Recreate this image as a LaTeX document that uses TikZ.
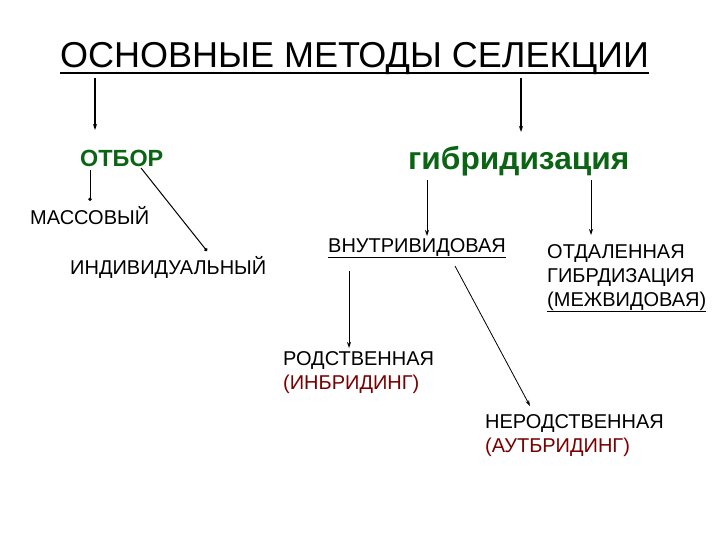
\documentclass[tikz,border=0pt]{standalone}
\usepackage{fontspec}
\setmainfont{Liberation Sans}
\usetikzlibrary{arrows.meta}
\definecolor{otborgreen}{RGB}{10,100,20}
\definecolor{bridred}{RGB}{120,0,0}
\begin{document}
\begin{tikzpicture}[x=1pt, y=-1pt,
    lbl/.style={anchor=base west, inner sep=0pt, font=\fontsize{20}{24}\selectfont, align=left},
    head/.style={anchor=base west, inner sep=0pt, text=otborgreen},
    arr/.style={-{Stealth[length=6pt,width=4pt]}, line width=0.8pt},
    big/.style={arr, line width=1.2pt},
    dot/.style={-{Circle[length=3.5pt]}, line width=1pt}
]
\useasboundingbox (0,0) rectangle (720,540);
\node[lbl, font=\fontsize{36}{40}\selectfont] (title) at (60,68) {ОСНОВНЫЕ МЕТОДЫ СЕЛЕКЦИИ};
\draw[line width=1.5pt] ([yshift=-5pt]title.base west) -- ([yshift=-5pt]title.base east);
\node[head, font=\fontsize{23.4}{26}\selectfont\bfseries] (otbor) at (80,167) {ОТБОР};
\node[head, font=\fontsize{31.7}{36}\selectfont\bfseries] (gibr) at (408,170) {гибридизация};
\node[lbl] (massov) at (30,225) {МАССОВЫЙ};
\node[lbl] (individ) at (70,274) {ИНДИВИДУАЛЬНЫЙ};
\node[lbl] (vnutri) at (328,252) {\underline{ВНУТРИВИДОВАЯ}};
\node[lbl] (otdal) at (547,306) {ОТДАЛЕННАЯ\\ГИБРДИЗАЦИЯ\\\underline{(МЕЖВИДОВАЯ)}};
\node[lbl] (rodstv) at (283,389) {РОДСТВЕННАЯ\\\textcolor{bridred}{(ИНБРИДИНГ)}};
\node[lbl] (nerodstv) at (485,452) {НЕРОДСТВЕННАЯ\\\textcolor{bridred}{(АУТБРИДИНГ)}};
% from the title
\draw[big] ([xshift=35pt,yshift=-10pt]title.base west) -- ([xshift=15pt,yshift=37pt]otbor.base west);
\draw[big] ([xshift=461pt,yshift=-10pt]title.base west) -- ([xshift=113pt,yshift=38pt]gibr.base west);
% otbor
\draw[dot] ([xshift=10pt,yshift=-3pt]otbor.base west) -- ([xshift=60pt,yshift=24pt]massov.base west);
\draw[dot] ([xshift=61pt,yshift=-1pt]otbor.base west) -- ([xshift=137pt,yshift=23pt]individ.base west);
% gibridizaciya
\draw[arr] ([xshift=19pt,yshift=-10pt]gibr.base west) -- ([xshift=99pt,yshift=16pt]vnutri.base west);
\draw[arr] ([xshift=183pt,yshift=-10pt]gibr.base west) -- ([xshift=44pt,yshift=71pt]otdal.base west);
\draw[arr] ([xshift=21pt,yshift=-19pt]vnutri.base west) -- ([xshift=66pt,yshift=41pt]rodstv.base west);
\draw[arr] ([xshift=127pt,yshift=-14pt]vnutri.base west) -- ([xshift=45pt,yshift=46pt]nerodstv.base west);
\end{tikzpicture}
\end{document}
